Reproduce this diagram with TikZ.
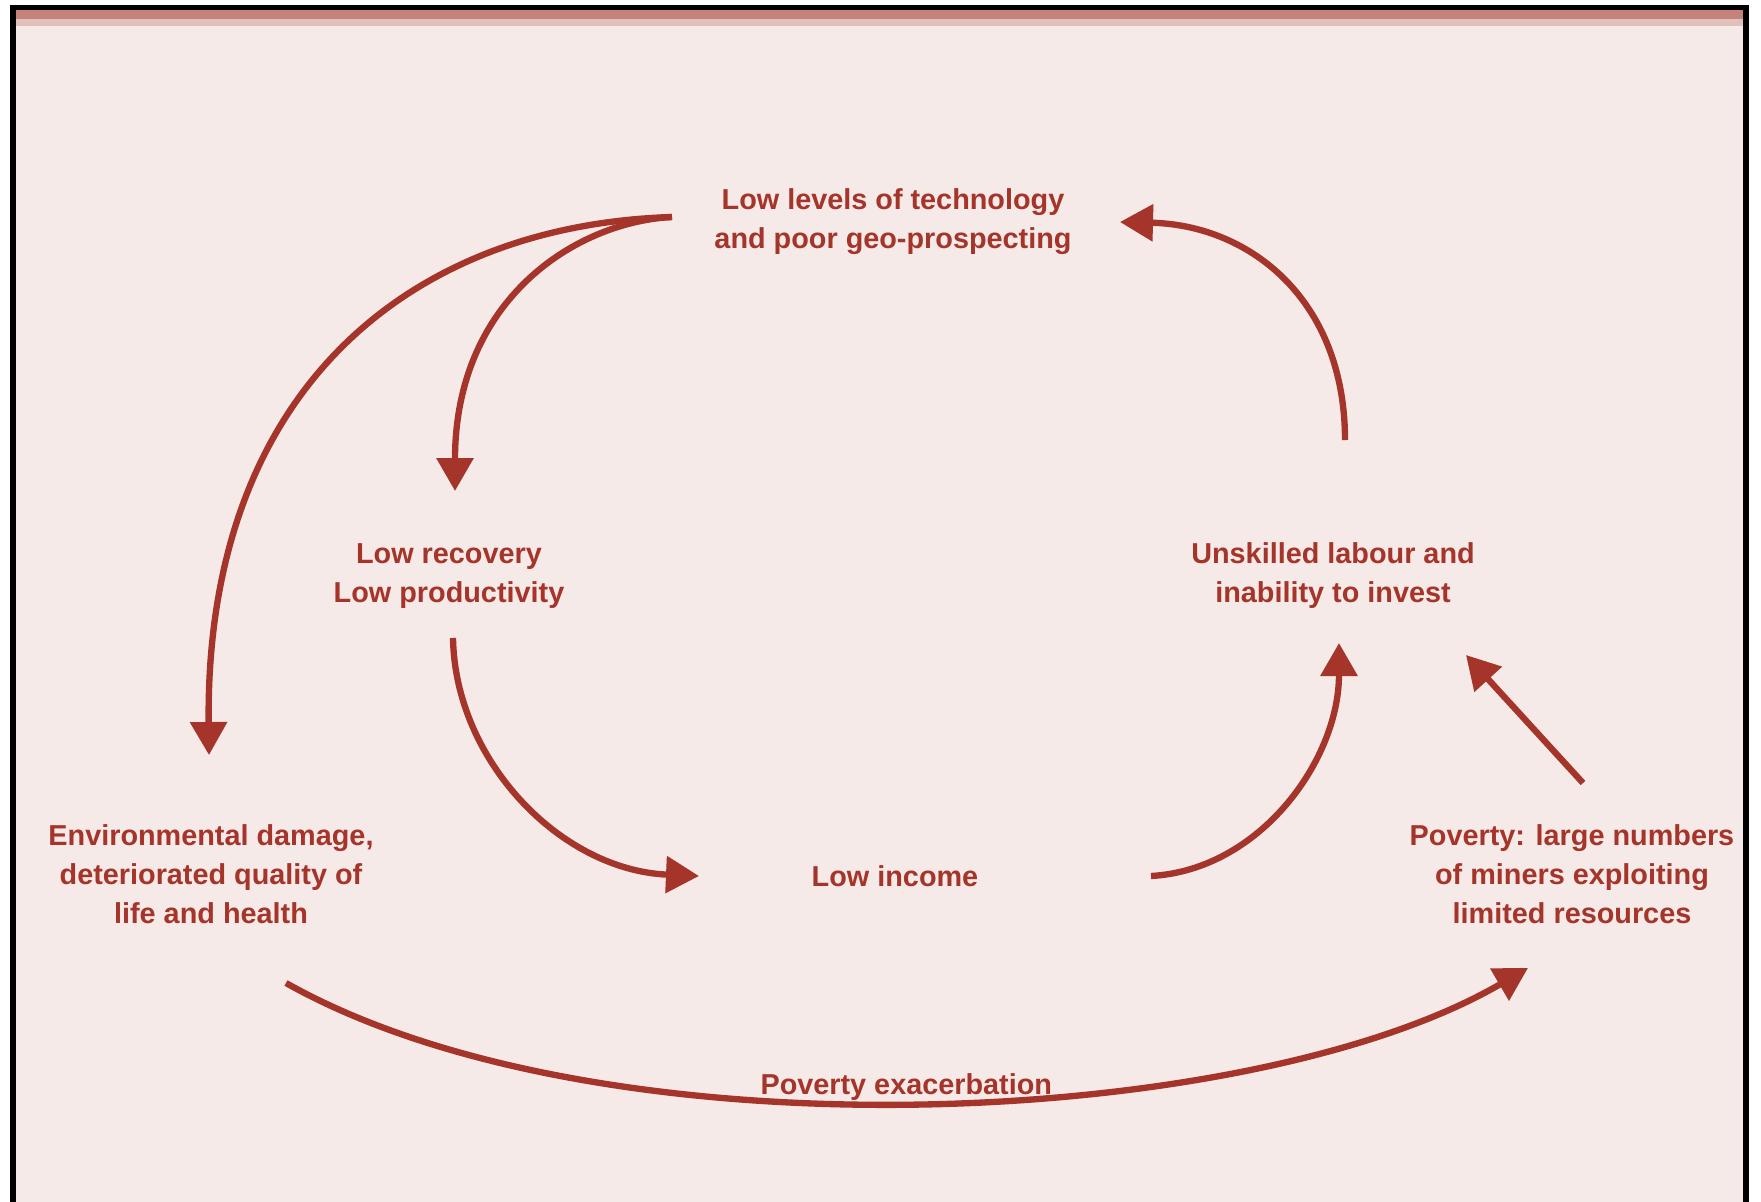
\documentclass[tikz,border=0pt]{standalone}
\usepackage{fontspec}
\setmainfont{Liberation Sans}
\usepackage{tikz}
\usetikzlibrary{arrows.meta}
\usetikzlibrary{calc}
\definecolor{cbrick}{RGB}{165,52,42}
\definecolor{cblush}{RGB}{245,234,231}
\definecolor{cband}{RGB}{196,130,122}

\begin{document}
\begin{tikzpicture}[x=0.1mm, y=-0.1mm,
    cause/.style={text=cbrick, font=\fontsize{8.2}{11.1}\selectfont\bfseries, align=center, inner sep=0pt},
    link/.style={draw=cbrick, line width=1.8pt, -{Triangle[width=3.6mm, length=3.3mm]}}]
  \useasboundingbox (0,0) rectangle (1761,1202);

  % page and frame
  \fill [white] (0,0) rectangle (1761,1202);
  \fill [cblush] (16,10) rectangle (1743,1202);
  \fill [cband] (16,10) rectangle (1743,19);
  \fill [cband!40!cblush] (16,19) rectangle (1743,26);
  \fill [black] (10,5) rectangle (1749,10);
  \fill [black] (10,5) rectangle (16,1202);
  \fill [black] (1743,5) rectangle (1749,1202);

  % causes
  \node [cause] (tech) at (893,222) {Low levels of technology\\and poor geo-prospecting};
  \node [cause] (recov) at (449,576) {Low recovery\\Low productivity};
  \node [cause] (skill) at (1333,576) {Unskilled labour and\\inability to invest};
  \node [cause] (env) at (211,874) {Environmental damage,\\deteriorated quality of\\life and health};
  \node [cause] (income) at (895,876) {Low income};
  \node [cause] (poor) at (1572,874) {Poverty: large numbers\\of miners exploiting\\limited resources};

  % inner loop
  \draw [link] ($(tech)+(-221,-5)$) .. controls (575,222) and (455,300) .. ($(recov)+(6,-85)$);
  \draw [link] ($(recov)+(4,62)$) .. controls (455,760) and (560,870) .. ($(income)+(-196,0)$);
  \draw [link] ($(income)+(256,0)$) .. controls (1260,870) and (1339,760) .. ($(skill)+(6,67)$);
  \draw [link] ($(skill)+(12,-136)$) .. controls (1345,300) and (1250,225) .. ($(tech)+(227,0)$);
  % outer loop
  \draw [link] ($(tech)+(-221,-5)$) .. controls (410,225) and (205,390) .. ($(env)+(-2,-119)$);
  \draw [link] ($(env)+(75,109)$) .. controls (600,1160) and (1250,1130) .. ($(poor)+(-44,94)$)
    node [cause, pos=0.49, anchor=base, yshift=0.8mm] (worse) {Poverty exacerbation};
  \draw [link] ($(poor)+(11,-91)$) -- ($(skill)+(133,79)$);
\end{tikzpicture}
\end{document}
